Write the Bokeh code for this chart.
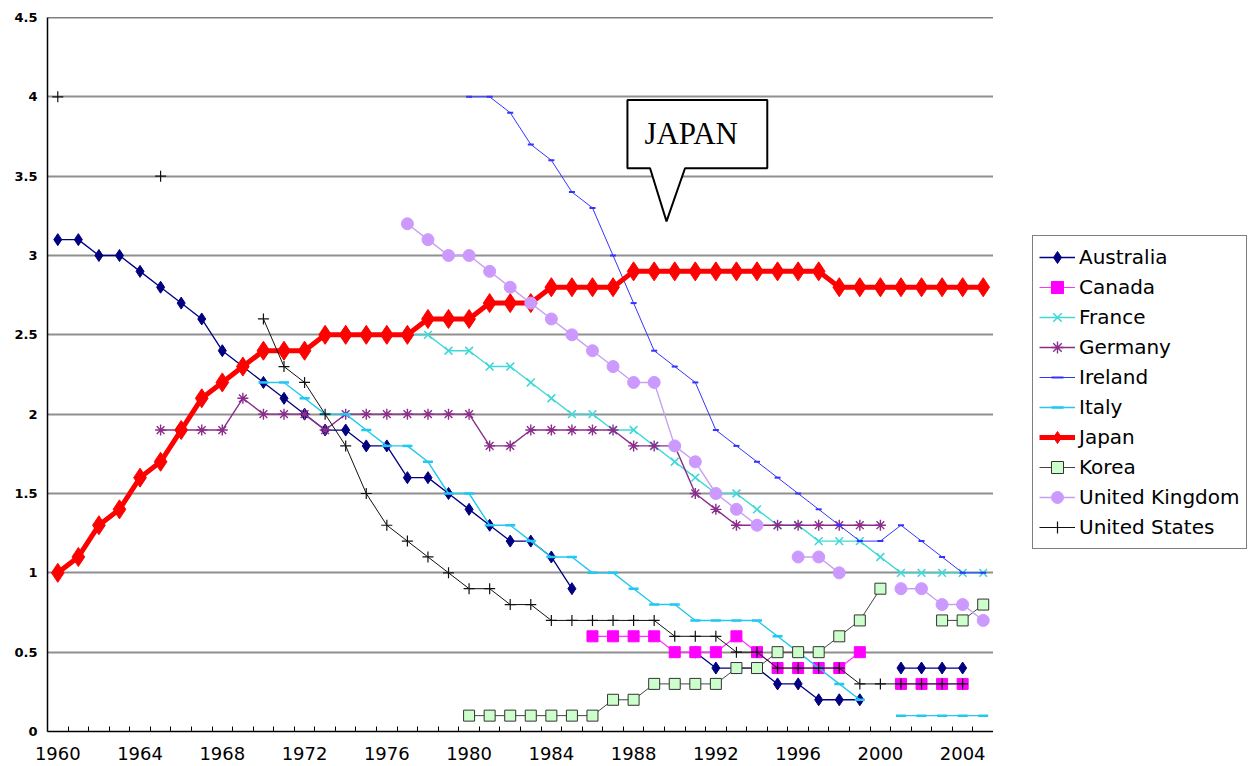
import math
from bokeh.plotting import figure
from bokeh.layouts import row
from bokeh.models import (ColumnDataSource, Legend, LegendItem, FixedTicker,
                          NumeralTickFormatter, Span, Range1d)
from bokeh.core.properties import value
from bokeh.embed import file_html
from bokeh.resources import INLINE

N = None
years = list(range(1960, 2006))
label_years = list(range(1960, 2005, 4))
y_ticks = [0, 0.5, 1, 1.5, 2, 2.5, 3, 3.5, 4, 4.5]

australia = [3.1, 3.1, 3.0, 3.0, 2.9, 2.8, 2.7, 2.6, 2.4, 2.3,
             2.2, 2.1, 2.0, 1.9, 1.9, 1.8, 1.8, 1.6, 1.6, 1.5,
             1.4, 1.3, 1.2, 1.2, 1.1, 0.9, N, N, N, N,
             N, 0.5, 0.4, 0.4, 0.4, 0.3, 0.3, 0.2, 0.2, 0.2,
             N, 0.4, 0.4, 0.4, 0.4, N]
canada = [N] * 26 + [0.6, 0.6, 0.6, 0.6,
                     0.5, 0.5, 0.5, 0.6, 0.5, 0.4, 0.4, 0.4, 0.4, 0.5,
                     N, 0.3, 0.3, 0.3, 0.3, N]
france = [N] * 17 + [2.5, 2.5, 2.4,
                     2.4, 2.3, 2.3, 2.2, 2.1, 2.0, 2.0, 1.9, 1.9, 1.8,
                     1.7, 1.6, 1.5, 1.5, 1.4, 1.3, 1.3, 1.2, 1.2, 1.2,
                     1.1, 1.0, 1.0, 1.0, 1.0, 1.0]
germany = [N] * 5 + [1.9, 1.9, 1.9, 1.9, 2.1,
                     2.0, 2.0, 2.0, 1.9, 2.0, 2.0, 2.0, 2.0, 2.0, 2.0,
                     2.0, 1.8, 1.8, 1.9, 1.9, 1.9, 1.9, 1.9, 1.8, 1.8,
                     1.8, 1.5, 1.4, 1.3, 1.3, 1.3, 1.3, 1.3, 1.3, 1.3,
                     1.3, N, N, N, N, N]
ireland = [N] * 20 + [4.0, 4.0, 3.9, 3.7, 3.6, 3.4, 3.3, 3.0, 2.7, 2.4,
                      2.3, 2.2, 1.9, 1.8, 1.7, 1.6, 1.5, 1.4, 1.3, 1.2,
                      1.2, 1.3, 1.2, 1.1, 1.0, 1.0]
italy = [N] * 10 + [2.2, 2.2, 2.1, 2.0, 2.0, 1.9, 1.8, 1.8, 1.7, 1.5,
                    1.5, 1.3, 1.3, 1.2, 1.1, 1.1, 1.0, 1.0, 0.9, 0.8,
                    0.8, 0.7, 0.7, 0.7, 0.7, 0.6, 0.5, 0.4, 0.3, 0.2,
                    N, 0.1, 0.1, 0.1, 0.1, 0.1]
japan = [1.0, 1.1, 1.3, 1.4, 1.6, 1.7, 1.9, 2.1, 2.2, 2.3,
         2.4, 2.4, 2.4, 2.5, 2.5, 2.5, 2.5, 2.5, 2.6, 2.6,
         2.6, 2.7, 2.7, 2.7, 2.8, 2.8, 2.8, 2.8, 2.9, 2.9,
         2.9, 2.9, 2.9, 2.9, 2.9, 2.9, 2.9, 2.9, 2.8, 2.8,
         2.8, 2.8, 2.8, 2.8, 2.8, 2.8]
korea = [N] * 20 + [0.1, 0.1, 0.1, 0.1, 0.1, 0.1, 0.1, 0.2, 0.2, 0.3,
                    0.3, 0.3, 0.3, 0.4, 0.4, 0.5, 0.5, 0.5, 0.6, 0.7,
                    0.9, N, N, 0.7, 0.7, 0.8]
united_kingdom = [N] * 17 + [3.2, 3.1, 3.0,
                             3.0, 2.9, 2.8, 2.7, 2.6, 2.5, 2.4, 2.3, 2.2, 2.2,
                             1.8, 1.7, 1.5, 1.4, 1.3, N, 1.1, 1.1, 1.0, N,
                             N, 0.9, 0.9, 0.8, 0.8, 0.7]
united_states = [4.0, N, N, N, N, 3.5, N, N, N, N,
                 2.6, 2.3, 2.2, 2.0, 1.8, 1.5, 1.3, 1.2, 1.1, 1.0,
                 0.9, 0.9, 0.8, 0.8, 0.7, 0.7, 0.7, 0.7, 0.7, 0.7,
                 0.6, 0.6, 0.6, 0.5, 0.5, 0.4, 0.4, 0.4, 0.4, 0.3,
                 0.3, 0.3, 0.3, 0.3, 0.3, N]

callout_label = "JAPAN"

styles = [
    ("Australia", australia, dict(c="#000080", lw=1.3, m="diamond", s=12, fill="#000080", mlw=1)),
    ("Canada", canada, dict(c="#FF33FF", lw=1.2, m="square", s=11, fill="#FF00FF", mlw=1, mc="#FF00FF")),
    ("France", france, dict(c="#40D8D8", lw=1.4, m="x", s=11, fill=None, mlw=1.6)),
    ("Germany", germany, dict(c="#8B2E8B", lw=1.4, m="asterisk", s=11, fill=None, mlw=1.4)),
    ("Ireland", ireland, dict(c="#3333FF", lw=1.0, m="dash", s=6, fill=None, mlw=2)),
    ("Italy", italy, dict(c="#22C8F0", lw=1.4, m="dash", s=10, fill=None, mlw=2.5)),
    ("Japan", japan, dict(c="#FF0000", lw=5, m="diamond", s=19, fill="#FF0000", mlw=1)),
    ("Korea", korea, dict(c="#444444", lw=1.0, m="square", s=11, fill="#CCFFCC", mlw=1, mc="#333333")),
    ("United Kingdom", united_kingdom, dict(c="#C8A0F0", lw=1.4, m="circle", s=12, fill="#CC99FF", mlw=1, mc="#CC99FF")),
    ("United States", united_states, dict(c="#111111", lw=1.0, m="cross", s=11, fill=None, mlw=1.2)),
]

p = figure(width=993, height=766,
           x_range=Range1d(1959.5, 2005.5), y_range=Range1d(0, 4.5),
           output_backend="svg", toolbar_location=None,
           min_border_left=47, min_border_right=0,
           min_border_top=17, min_border_bottom=35)
p.outline_line_color = None
p.background_fill_color = "white"
p.border_fill_color = "white"
p.xgrid.visible = False
p.ygrid.ticker = FixedTicker(ticks=y_ticks)
p.ygrid.grid_line_color = "#8f8f8f"
p.ygrid.grid_line_width = 2

p.xaxis.ticker = FixedTicker(ticks=label_years,
                             minor_ticks=[y - 0.5 for y in years] + [years[-1] + 0.5])
p.xaxis.major_tick_in = 0
p.xaxis.major_tick_out = 0
p.xaxis.minor_tick_in = 5
p.xaxis.minor_tick_out = 0
p.xaxis.minor_tick_line_color = "black"
p.xaxis.axis_line_color = "black"
p.xaxis.axis_line_width = 1.5
p.xaxis.major_label_text_font = "DejaVu Sans"
p.xaxis.major_label_text_font_size = "18px"
p.xaxis.major_label_text_color = "black"
p.xaxis.major_label_standoff = 15

p.yaxis.ticker = FixedTicker(ticks=y_ticks)
p.yaxis.formatter = NumeralTickFormatter(format="0.[0]")
p.yaxis.major_tick_in = 0
p.yaxis.major_tick_out = 0
p.yaxis.minor_tick_line_color = None
p.yaxis.axis_line_color = "black"
p.yaxis.axis_line_width = 1.5
p.yaxis.major_label_text_font = "DejaVu Sans"
p.yaxis.major_label_text_font_style = "bold"
p.yaxis.major_label_text_font_size = "13px"
p.yaxis.major_label_text_color = "black"
p.yaxis.major_label_standoff = 10

p.add_layout(Span(location=4.5, dimension="width", line_color="black", line_width=1.5))

# separate panel that carries the legend (outside the plot area, as in the reference);
# its ranges keep the series themselves out of view, only the legend shows.
lf = figure(width=263, height=766, x_range=Range1d(1959.5, 2005.5), y_range=Range1d(10, 11),
            output_backend="svg", toolbar_location=None, min_border=0)
lf.axis.visible = False
lf.grid.visible = False
lf.outline_line_color = None
lf.border_fill_color = "white"
lf.background_fill_color = "white"

items = []
for name, vals, st in styles:
    src = ColumnDataSource(dict(year=years,
                                v=[math.nan if v is None else v for v in vals]))
    kw_line = dict(line_color=st["c"], line_width=st["lw"])
    kw_mark = dict(marker=st["m"], size=st["s"], line_color=st.get("mc", st["c"]),
                   line_width=st["mlw"], fill_color=st["fill"])
    p.line("year", "v", source=src, **kw_line)
    p.scatter("year", "v", source=src, **kw_mark)
    ln = lf.line("year", "v", source=src, **kw_line)
    sc = lf.scatter("year", "v", source=src, **kw_mark)
    items.append(LegendItem(label=name, renderers=[ln, sc]))

# callout box for JAPAN (annotation)
cx = [1987.7, 1994.5, 1994.5, 1990.5, 1989.6, 1988.8, 1987.7]
cy = [3.98, 3.98, 3.55, 3.55, 3.215, 3.55, 3.55]
p.patch(cx, cy, fill_color="white", line_color="black", line_width=2)
p.text(x=[1990.8], y=[3.77], text=[callout_label],
       text_font=value("Liberation Serif"), text_font_size="31px",
       text_align="center", text_baseline="middle", text_color="black")

legend = Legend(items=items, location=(39, 182), margin=0, padding=6,
                spacing=0, label_height=30, glyph_height=30, glyph_width=36,
                label_standoff=4, label_text_font="DejaVu Sans",
                label_text_font_size="20px", label_text_color="black",
                border_line_color="black", border_line_width=1,
                background_fill_color="white", background_fill_alpha=1)
lf.add_layout(legend)

layout = row(p, lf, spacing=0)
open("out.html", "w").write(file_html(layout, INLINE))
